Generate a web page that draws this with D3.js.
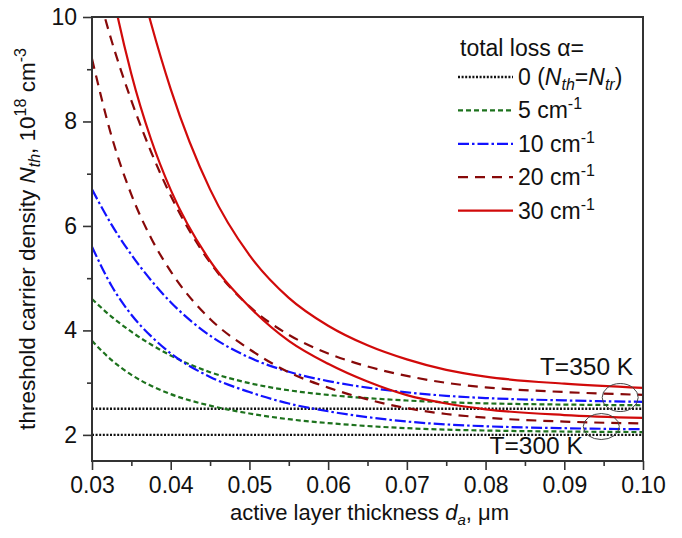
<!DOCTYPE html>
<html><head><meta charset="utf-8">
<script src="https://cdn.jsdelivr.net/npm/d3@7"></script>
<style>
body{margin:0;background:#fff}
text{font-family:"Liberation Sans",Arial,sans-serif;fill:#111}
</style>
</head><body>
<svg id="chart" width="682" height="538"></svg>
<script>
// ---- data ----
const thickness = [0.030, 0.0325, 0.035, 0.0375, 0.040, 0.045, 0.050, 0.055, 0.060, 0.065, 0.070, 0.075, 0.080, 0.090, 0.100];
// T = 300 K (N_tr = 2.0)
const n300_a0  = [2.0, 2.0, 2.0, 2.0, 2.0, 2.0, 2.0, 2.0, 2.0, 2.0, 2.0, 2.0, 2.0, 2.0, 2.0];
const n300_a5  = [3.80, 3.43, 3.15, 2.94, 2.78, 2.56, 2.41, 2.30, 2.226, 2.17, 2.128, 2.10, 2.083, 2.064, 2.054];
const n300_a10 = [5.60, 4.85, 4.30, 3.89, 3.56, 3.11, 2.82, 2.60, 2.452, 2.34, 2.255, 2.20, 2.165, 2.128, 2.108];
const n300_a20 = [9.20, 7.71, 6.60, 5.77, 5.13, 4.22, 3.64, 3.20, 2.905, 2.68, 2.51, 2.40, 2.33, 2.255, 2.218];
const n300_a30 = [12.8, 10.56, 8.91, 7.66, 6.69, 5.33, 4.45, 3.80, 3.36, 3.02, 2.76, 2.60, 2.49, 2.38, 2.325];
// T = 350 K (N_tr = 2.5)
const n350_a0  = [2.5, 2.5, 2.5, 2.5, 2.5, 2.5, 2.5, 2.5, 2.5, 2.5, 2.5, 2.5, 2.5, 2.5, 2.5];
const n350_a5  = [4.60, 4.26, 3.975, 3.73, 3.52, 3.20, 2.99, 2.854, 2.765, 2.703, 2.658, 2.624, 2.603, 2.58, 2.567];
const n350_a10 = [6.70, 6.02, 5.45, 4.96, 4.54, 3.90, 3.48, 3.208, 3.03, 2.905, 2.815, 2.748, 2.705, 2.66, 2.633];
const n350_a20 = [10.9, 9.54, 8.40, 7.42, 6.58, 5.30, 4.46, 3.916, 3.56, 3.31, 3.13, 2.996, 2.91, 2.82, 2.766];
const n350_a30 = [15.1, 13.06, 11.35, 9.88, 8.62, 6.70, 5.44, 4.624, 4.09, 3.715, 3.445, 3.244, 3.115, 2.98, 2.899];

const lossKeys = ["a0", "a5", "a10", "a20", "a30"];
const legendLabels = ["0", "5", "10", "20", "30"];
const xTickValues = [0.03, 0.04, 0.05, 0.06, 0.07, 0.08, 0.09, 0.10];
const xMinorValues = [0.035, 0.045, 0.055, 0.065, 0.075, 0.085, 0.095];
const yTickValues = [2, 4, 6, 8, 10];
const yMinorValues = [3, 5, 7, 9];

const series = [
  {key:"a0", vals:n300_a0}, {key:"a5", vals:n300_a5}, {key:"a10", vals:n300_a10},
  {key:"a20", vals:n300_a20}, {key:"a30", vals:n300_a30},
  {key:"a0", vals:n350_a0}, {key:"a5", vals:n350_a5}, {key:"a10", vals:n350_a10},
  {key:"a20", vals:n350_a20}, {key:"a30", vals:n350_a30}
];

const styles = {
  a0:  {color:"#111111", dash:"2,1.6", width:2.4},
  a5:  {color:"#1d721d", dash:"5,3", width:2.2},
  a10: {color:"#1212ff", dash:"11,3,2.5,3", width:2.2},
  a20: {color:"#870909", dash:"10,7", width:2.2},
  a30: {color:"#d10a0a", dash:null, width:2.2}
};

// ---- layout ----
const W = 682, H = 538;
const m = {left:92, right:39, top:17, bottom:77};
const svg = d3.select("#chart");
const x = d3.scaleLinear().domain([0.03, 0.10]).range([m.left, W - m.right]);
const y = d3.scaleLinear().domain([1.5, 10]).range([H - m.bottom, m.top]);

svg.append("defs").append("clipPath").attr("id","clip")
  .append("rect").attr("x", m.left).attr("y", m.top)
  .attr("width", W - m.left - m.right).attr("height", H - m.top - m.bottom);

// curves
const line = d3.line().x(d => x(d[0])).y(d => y(d[1])).curve(d3.curveMonotoneX);
const g = svg.append("g").attr("clip-path","url(#clip)");
series.slice().reverse().forEach(s => {
  const st = styles[s.key];
  g.append("path")
    .datum(thickness.map((t, i) => [t, s.vals[i]]))
    .attr("d", line)
    .attr("fill","none")
    .attr("stroke", st.color)
    .attr("stroke-width", st.width)
    .attr("stroke-dasharray", st.dash);
});

// axes
const axisColor = "#333";
const fs = "23px";
function styleAxis(sel){
  sel.select(".domain").remove();
  sel.selectAll("line").attr("stroke", axisColor).attr("stroke-width", 1.6);
  sel.selectAll("text").style("font-size", fs).attr("fill","#111");
}
svg.append("g").attr("transform", `translate(0,${H - m.bottom})`)
  .call(d3.axisBottom(x).tickValues(xTickValues).tickSize(9).tickPadding(7).tickFormat(d3.format(".2f")))
  .call(styleAxis);
svg.append("g").attr("transform", `translate(0,${H - m.bottom})`)
  .call(d3.axisBottom(x).tickValues(xMinorValues).tickSize(5).tickFormat(""))
  .call(styleAxis);
svg.append("g").attr("transform", `translate(${m.left},0)`)
  .call(d3.axisLeft(y).tickValues(yTickValues).tickSize(9).tickPadding(6))
  .call(styleAxis);
svg.append("g").attr("transform", `translate(${m.left},0)`)
  .call(d3.axisLeft(y).tickValues(yMinorValues).tickSize(5).tickFormat(""))
  .call(styleAxis);

// frame
svg.append("rect").attr("x", m.left).attr("y", m.top)
  .attr("width", W - m.left - m.right).attr("height", H - m.top - m.bottom)
  .attr("fill","none").attr("stroke", axisColor).attr("stroke-width", 2);

// axis titles
const xt = svg.append("text").attr("x", (m.left + W - m.right)/2 + 2).attr("y", 520)
  .attr("text-anchor","middle").style("font-size", "22px");
xt.append("tspan").text("active layer thickness ");
xt.append("tspan").style("font-style","italic").text("d");
xt.append("tspan").style("font-style","italic").style("font-size","15px").attr("dy", 5).text("a");
xt.append("tspan").attr("dy", -5).text(", μm");

const yt = svg.append("text")
  .attr("transform", `translate(35,${(m.top + H - m.bottom)/2}) rotate(-90)`)
  .attr("text-anchor","middle").style("font-size", "22.5px");
yt.append("tspan").text("threshold carrier density ");
yt.append("tspan").style("font-style","italic").text("N");
yt.append("tspan").style("font-style","italic").style("font-size","16px").attr("dy", 5).text("th");
yt.append("tspan").attr("dy", -5).text(", 10");
yt.append("tspan").style("font-size","16px").attr("dy", -9).text("18");
yt.append("tspan").attr("dy", 9).text(" cm");
yt.append("tspan").style("font-size","16px").attr("dy", -9).text("-3");

// legend
const lgX = 458, lgY0 = 77, lgDy = 33.4;
svg.append("text").attr("x", 460).attr("y", 56).style("font-size", fs).text("total loss α=");
lossKeys.forEach((k, i) => {
  const st = styles[k];
  const ly = lgY0 + i * lgDy;
  svg.append("line").attr("x1", lgX).attr("x2", lgX + 55).attr("y1", ly).attr("y2", ly)
    .attr("stroke", st.color).attr("stroke-width", st.width).attr("stroke-dasharray", st.dash);
  const t = svg.append("text").attr("x", lgX + 60).attr("y", ly + 8).style("font-size", fs);
  if (k === "a0") {
    t.append("tspan").text(legendLabels[i] + " (");
    t.append("tspan").style("font-style","italic").text("N");
    t.append("tspan").style("font-style","italic").style("font-size","16px").attr("dy", 5).text("th");
    t.append("tspan").attr("dy", -5).text("=");
    t.append("tspan").style("font-style","italic").text("N");
    t.append("tspan").style("font-style","italic").style("font-size","16px").attr("dy", 5).text("tr");
    t.append("tspan").attr("dy", -5).text(")");
  } else {
    t.append("tspan").text(legendLabels[i] + " cm");
    t.append("tspan").style("font-size","16px").attr("dy", -9).text("-1");
  }
});

// annotations
svg.append("text").attr("x", x(0.0869)).attr("y", y(3.14)).style("font-size","24.5px").text("T=350 K");
svg.append("text").attr("x", x(0.0805)).attr("y", y(1.64)).style("font-size","24.5px").text("T=300 K");
svg.append("ellipse").attr("cx", x(0.0971)).attr("cy", y(2.715)).attr("rx", 18).attr("ry", 14)
  .attr("fill","none").attr("stroke","#444").attr("stroke-width",1);
svg.append("ellipse").attr("cx", x(0.0947)).attr("cy", y(2.16)).attr("rx", 18).attr("ry", 13)
  .attr("fill","none").attr("stroke","#444").attr("stroke-width",1);
</script>
</body></html>
